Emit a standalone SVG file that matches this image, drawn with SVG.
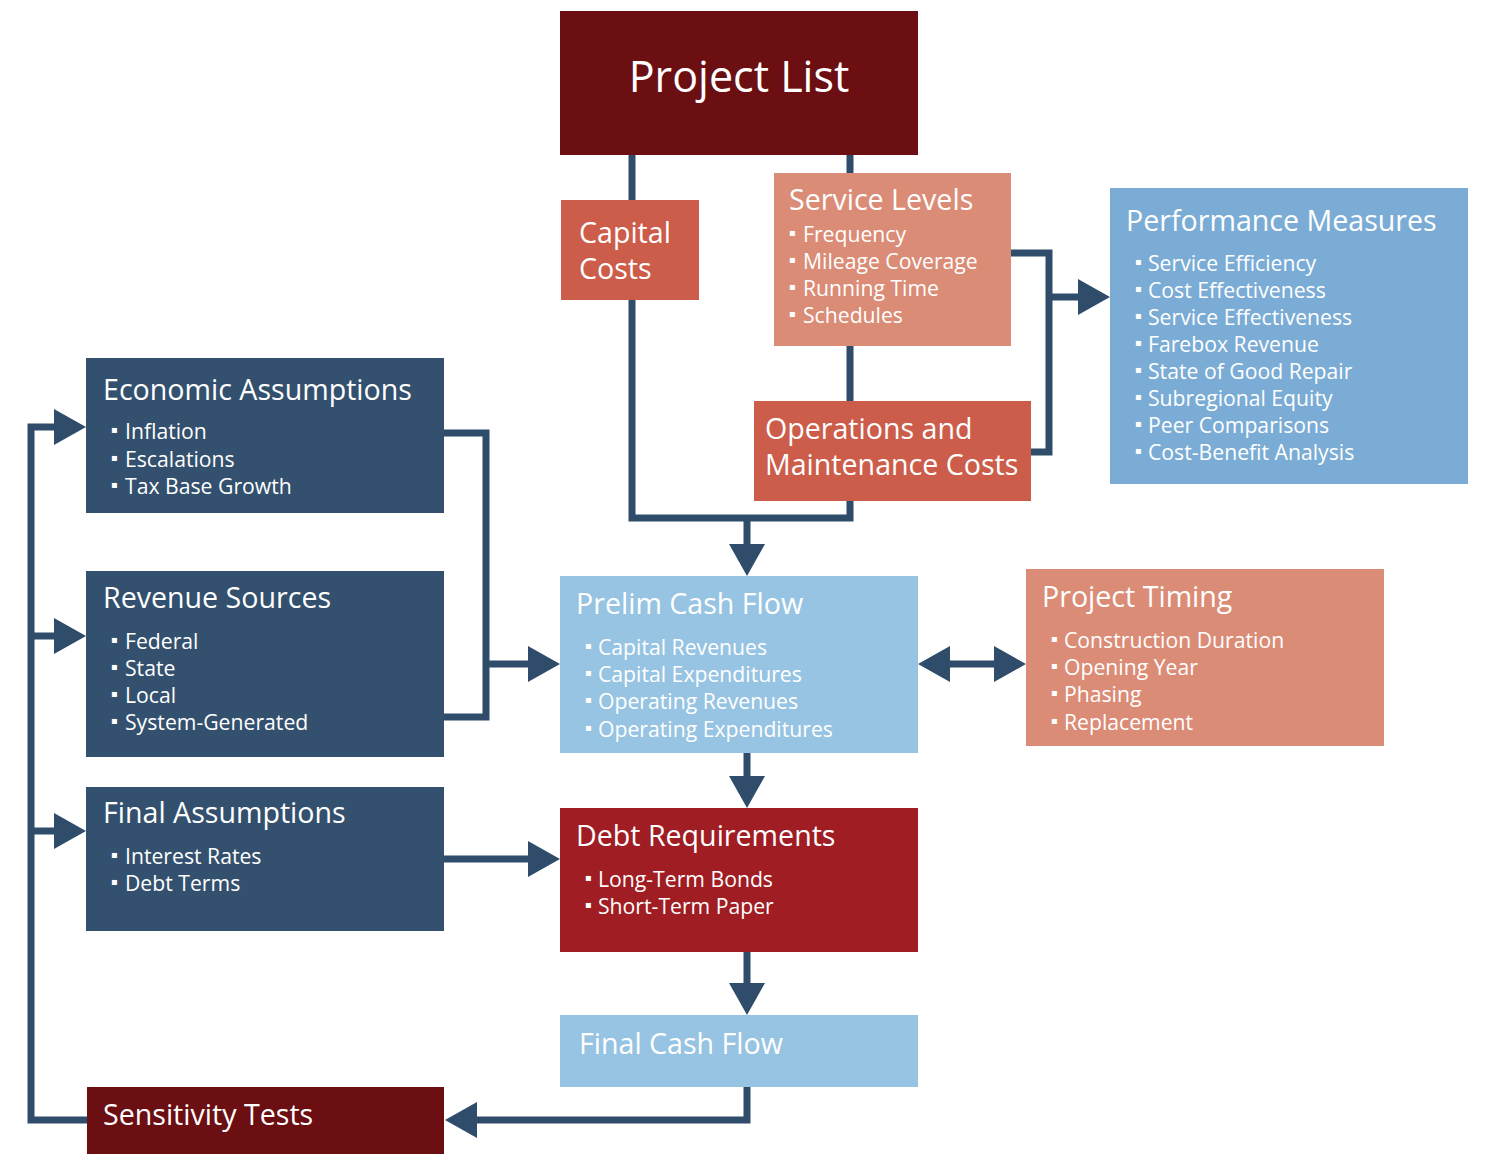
<svg xmlns="http://www.w3.org/2000/svg" width="1486" height="1154" viewBox="0 0 1486 1154">
  <style>
    .ln { fill: none; stroke: #2f4d6b; stroke-width: 7; stroke-linejoin: miter; stroke-linecap: butt; }
    .ar { marker-end: url(#head); }
    .tt { font-family: "Open Sans", "Noto Sans", sans-serif; font-size: 28.6px; fill: #ffffff; }
    .it { font-family: "Open Sans", "Noto Sans", sans-serif; font-size: 21.2px; fill: #ffffff; }
    .bl { font-family: "DejaVu Sans", sans-serif; font-size: 10px; fill: #ffffff; }
    .maroon { fill: #6b0f12; }
    .brick { fill: #cc5d4b; }
    .salmon { fill: #db8c76; }
    .steel { fill: #7bacd5; }
    .sky { fill: #97c4e2; }
    .navy { fill: #33506e; }
    .red { fill: #a01d23; }
  </style>
  <defs>
    <marker id="head" markerUnits="userSpaceOnUse" markerWidth="32" markerHeight="36" refX="0" refY="18" orient="auto-start-reverse" viewBox="0 0 32 36">
      <path d="M0,0 L32,18 L0,36 z" fill="#2f4d6b"/>
    </marker>
  </defs>

  <rect width="1486" height="1154" fill="#ffffff"/>

  <g id="connectors">
    <!-- project list branches merging into the preliminary cash flow -->
    <path class="ln" d="M632,155 V518 H850 V155"/>
    <path class="ln ar" d="M747,518 V544"/>
    <!-- service levels and O&M feed performance measures -->
    <path class="ln" d="M1011,253 H1049 V452 H1031"/>
    <path class="ln ar" d="M1049,297 H1078"/>
    <!-- economic assumptions and revenue sources into prelim cash flow -->
    <path class="ln" d="M444,433 H486 V717 H444"/>
    <path class="ln ar" d="M486,664 H528"/>
    <!-- two-way link with project timing -->
    <path class="ln" d="M950,664 H994" marker-start="url(#head)" marker-end="url(#head)"/>
    <!-- main vertical chain -->
    <path class="ln ar" d="M747,753 V776"/>
    <path class="ln ar" d="M747,952 V983"/>
    <path class="ln ar" d="M747,1087 V1120 H477"/>
    <!-- final assumptions into debt requirements -->
    <path class="ln ar" d="M444,859 H528"/>
    <!-- sensitivity feedback loop -->
    <path class="ln ar" d="M87,1120 H31 V427 H54"/>
    <path class="ln ar" d="M31,636 H54"/>
    <path class="ln ar" d="M31,831 H54"/>
  </g>

  <g id="project-list">
    <rect class="maroon" x="560" y="11" width="358" height="144"/>
    <text x="739" y="92" text-anchor="middle" font-family="Open Sans, Noto Sans, sans-serif" font-size="43" fill="#ffffff">Project List</text>
  </g>

  <g id="capital-costs">
    <rect class="brick" x="561" y="200" width="138" height="100"/>
    <text class="tt" x="579" y="243">Capital</text>
    <text class="tt" x="579" y="279">Costs</text>
  </g>

  <g id="service-levels">
    <rect class="salmon" x="774" y="173" width="237" height="173"/>
    <text class="tt" x="789" y="210">Service Levels</text>
    <text class="it"><tspan class="bl" x="789" y="242" dy="-6">▪</tspan><tspan x="803" y="242">Frequency</tspan></text>
    <text class="it"><tspan class="bl" x="789" y="269" dy="-6">▪</tspan><tspan x="803" y="269">Mileage Coverage</tspan></text>
    <text class="it"><tspan class="bl" x="789" y="296" dy="-6">▪</tspan><tspan x="803" y="296">Running Time</tspan></text>
    <text class="it"><tspan class="bl" x="789" y="323" dy="-6">▪</tspan><tspan x="803" y="323">Schedules</tspan></text>
  </g>

  <g id="om-costs">
    <rect class="brick" x="754" y="401" width="277" height="100"/>
    <text class="tt" x="765" y="439">Operations and</text>
    <text class="tt" x="765" y="475">Maintenance Costs</text>
  </g>

  <g id="performance-measures">
    <rect class="steel" x="1110" y="188" width="358" height="296"/>
    <text class="tt" x="1126" y="231">Performance Measures</text>
    <text class="it"><tspan class="bl" x="1135" y="271" dy="-6">▪</tspan><tspan x="1148" y="271">Service Efficiency</tspan></text>
    <text class="it"><tspan class="bl" x="1135" y="298" dy="-6">▪</tspan><tspan x="1148" y="298">Cost Effectiveness</tspan></text>
    <text class="it"><tspan class="bl" x="1135" y="325" dy="-6">▪</tspan><tspan x="1148" y="325">Service Effectiveness</tspan></text>
    <text class="it"><tspan class="bl" x="1135" y="352" dy="-6">▪</tspan><tspan x="1148" y="352">Farebox Revenue</tspan></text>
    <text class="it"><tspan class="bl" x="1135" y="379" dy="-6">▪</tspan><tspan x="1148" y="379">State of Good Repair</tspan></text>
    <text class="it"><tspan class="bl" x="1135" y="406" dy="-6">▪</tspan><tspan x="1148" y="406">Subregional Equity</tspan></text>
    <text class="it"><tspan class="bl" x="1135" y="433" dy="-6">▪</tspan><tspan x="1148" y="433">Peer Comparisons</tspan></text>
    <text class="it"><tspan class="bl" x="1135" y="460" dy="-6">▪</tspan><tspan x="1148" y="460">Cost-Benefit Analysis</tspan></text>
  </g>

  <g id="economic-assumptions">
    <rect class="navy" x="86" y="358" width="358" height="155"/>
    <text class="tt" x="103" y="400">Economic Assumptions</text>
    <text class="it"><tspan class="bl" x="111" y="439" dy="-6">▪</tspan><tspan x="125" y="439">Inflation</tspan></text>
    <text class="it"><tspan class="bl" x="111" y="467" dy="-6">▪</tspan><tspan x="125" y="467">Escalations</tspan></text>
    <text class="it"><tspan class="bl" x="111" y="494" dy="-6">▪</tspan><tspan x="125" y="494">Tax Base Growth</tspan></text>
  </g>

  <g id="revenue-sources">
    <rect class="navy" x="86" y="571" width="358" height="186"/>
    <text class="tt" x="103" y="608">Revenue Sources</text>
    <text class="it"><tspan class="bl" x="111" y="649" dy="-6">▪</tspan><tspan x="125" y="649">Federal</tspan></text>
    <text class="it"><tspan class="bl" x="111" y="676" dy="-6">▪</tspan><tspan x="125" y="676">State</tspan></text>
    <text class="it"><tspan class="bl" x="111" y="703" dy="-6">▪</tspan><tspan x="125" y="703">Local</tspan></text>
    <text class="it"><tspan class="bl" x="111" y="730" dy="-6">▪</tspan><tspan x="125" y="730">System-Generated</tspan></text>
  </g>

  <g id="prelim-cash-flow">
    <rect class="sky" x="560" y="576" width="358" height="177"/>
    <text class="tt" x="576" y="614">Prelim Cash Flow</text>
    <text class="it"><tspan class="bl" x="585" y="655" dy="-6">▪</tspan><tspan x="598" y="655">Capital Revenues</tspan></text>
    <text class="it"><tspan class="bl" x="585" y="682" dy="-6">▪</tspan><tspan x="598" y="682">Capital Expenditures</tspan></text>
    <text class="it"><tspan class="bl" x="585" y="709" dy="-6">▪</tspan><tspan x="598" y="709">Operating Revenues</tspan></text>
    <text class="it"><tspan class="bl" x="585" y="737" dy="-6">▪</tspan><tspan x="598" y="737">Operating Expenditures</tspan></text>
  </g>

  <g id="project-timing">
    <rect class="salmon" x="1026" y="569" width="358" height="177"/>
    <text class="tt" x="1042" y="607">Project Timing</text>
    <text class="it"><tspan class="bl" x="1051" y="648" dy="-6">▪</tspan><tspan x="1064" y="648">Construction Duration</tspan></text>
    <text class="it"><tspan class="bl" x="1051" y="675" dy="-6">▪</tspan><tspan x="1064" y="675">Opening Year</tspan></text>
    <text class="it"><tspan class="bl" x="1051" y="702" dy="-6">▪</tspan><tspan x="1064" y="702">Phasing</tspan></text>
    <text class="it"><tspan class="bl" x="1051" y="730" dy="-6">▪</tspan><tspan x="1064" y="730">Replacement</tspan></text>
  </g>

  <g id="final-assumptions">
    <rect class="navy" x="86" y="787" width="358" height="144"/>
    <text class="tt" x="103" y="823">Final Assumptions</text>
    <text class="it"><tspan class="bl" x="111" y="864" dy="-6">▪</tspan><tspan x="125" y="864">Interest Rates</tspan></text>
    <text class="it"><tspan class="bl" x="111" y="891" dy="-6">▪</tspan><tspan x="125" y="891">Debt Terms</tspan></text>
  </g>

  <g id="debt-requirements">
    <rect class="red" x="560" y="808" width="358" height="144"/>
    <text class="tt" x="576" y="846">Debt Requirements</text>
    <text class="it"><tspan class="bl" x="585" y="887" dy="-6">▪</tspan><tspan x="598" y="887">Long-Term Bonds</tspan></text>
    <text class="it"><tspan class="bl" x="585" y="914" dy="-6">▪</tspan><tspan x="598" y="914">Short-Term Paper</tspan></text>
  </g>

  <g id="final-cash-flow">
    <rect class="sky" x="560" y="1015" width="358" height="72"/>
    <text class="tt" x="579" y="1054">Final Cash Flow</text>
  </g>

  <g id="sensitivity-tests">
    <rect class="maroon" x="87" y="1087" width="357" height="67"/>
    <text class="tt" x="103" y="1125">Sensitivity Tests</text>
  </g>
</svg>
